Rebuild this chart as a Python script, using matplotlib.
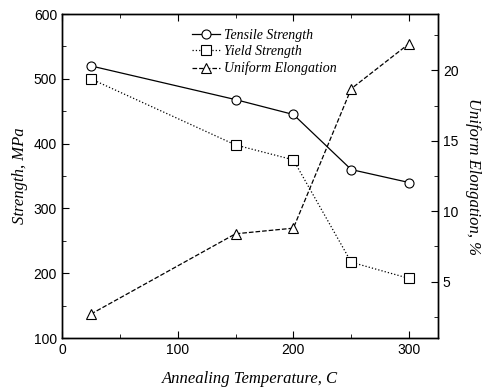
import matplotlib
matplotlib.use("Agg")
import matplotlib.pyplot as plt
from matplotlib.ticker import MultipleLocator

temps = [25, 150, 200, 250, 300]
tensile = [520, 468, 445, 360, 340]
yield_s = [500, 398, 375, 217, 192]
elong = [2.7, 8.4, 8.8, 18.7, 21.9]

serif = ['Liberation Serif', 'DejaVu Serif']
sans = ['Liberation Sans', 'DejaVu Sans']

fig = plt.figure(figsize=(4.84, 3.91), dpi=100)
ax = fig.add_axes([0.128, 0.1355, 0.777, 0.8285])
ax2 = ax.twinx()

mk = dict(markerfacecolor='white', markeredgecolor='black', markersize=6.5, markeredgewidth=0.8, color='black', linewidth=0.9)
l1, = ax.plot(temps, tensile, '-', marker='o', label='Tensile Strength', **mk)
l2, = ax.plot(temps, yield_s, ':', marker='s', label='Yield Strength', **mk)
l3, = ax2.plot(temps, elong, '--', marker='^', label='Uniform Elongation', **mk)

ax.set_xlim(0, 325)
ax.set_ylim(100, 600)
ax2.set_ylim(1, 24)

ax.xaxis.set_major_locator(MultipleLocator(100))
ax.xaxis.set_minor_locator(MultipleLocator(50))
ax.yaxis.set_major_locator(MultipleLocator(100))
ax.yaxis.set_minor_locator(MultipleLocator(50))
ax2.yaxis.set_major_locator(MultipleLocator(5))
ax2.yaxis.set_minor_locator(MultipleLocator(2.5))

ax.tick_params(which='both', direction='in', top=True, right=False, labelsize=10)
ax.tick_params(which='major', length=5)
ax.tick_params(which='minor', length=3)
ax2.tick_params(which='both', direction='in', labelsize=10)
ax2.tick_params(which='major', length=5)
ax2.tick_params(which='minor', length=3)
for a in (ax, ax2):
    for lab in a.get_xticklabels() + a.get_yticklabels():
        lab.set_family(sans)
    for s in a.spines.values():
        s.set_linewidth(1.0)

ax.set_xlabel('Annealing Temperature, C', family=serif, style='italic', fontsize=12, labelpad=10)
ax.set_ylabel('Strength, MPa', family=serif, style='italic', fontsize=12, labelpad=4)
ax2.set_ylabel('Uniform Elongation, %', family=serif, style='italic', fontsize=12, rotation=-90, labelpad=16)

leg = ax.legend(handles=[l1, l2, l3], loc='upper left', bbox_to_anchor=(0.32, 0.985), frameon=False,
                prop={'family': serif, 'style': 'italic', 'size': 10}, handlelength=2.0,
                labelspacing=0.25, handletextpad=0.3, borderpad=0.2)

fig.savefig('out.png', dpi=100)
